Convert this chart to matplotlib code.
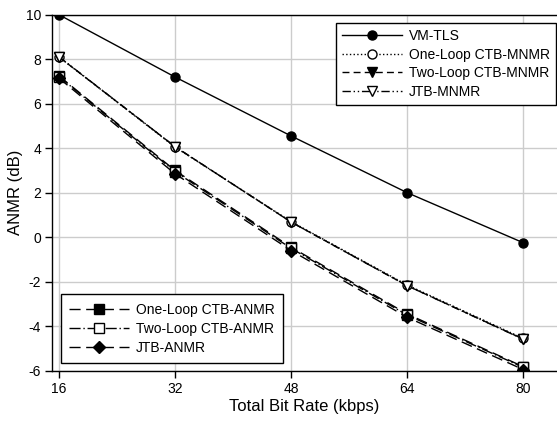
import matplotlib.pyplot as plt

plt.rcParams['font.family'] = ['Liberation Sans', 'DejaVu Sans']
plt.rcParams['axes.unicode_minus'] = False

rates = [16, 32, 48, 64, 80]

vm_tls = [10.0, 7.2, 4.55, 2.0, -0.25]
one_loop_mnmr = [8.1, 4.05, 0.7, -2.15, -4.55]
two_loop_mnmr = [8.1, 4.07, 0.68, -2.18, -4.58]
jtb_mnmr = [8.11, 4.07, 0.68, -2.18, -4.59]
one_loop_anmr = [7.25, 3.0, -0.45, -3.45, -5.82]
two_loop_anmr = [7.22, 2.95, -0.5, -3.5, -5.85]
jtb_anmr = [7.15, 2.85, -0.6, -3.6, -5.95]

fig = plt.figure(figsize=(5.57, 4.21), dpi=100)
ax = fig.add_axes([0.0934, 0.1195, 0.9066, 0.8456])

ms = 6.5
upper = []
upper += ax.plot(rates, vm_tls, 'k-', marker='o', ms=ms, lw=1, label='VM-TLS')
upper += ax.plot(rates, one_loop_mnmr, color='k', ls=':', marker='o', mfc='white',
                 ms=ms, lw=1, label='One-Loop CTB-MNMR')
upper += ax.plot(rates, two_loop_mnmr, color='k', ls=(0, (5, 3)), marker='v',
                 ms=ms, lw=1, label='Two-Loop CTB-MNMR')
upper += ax.plot(rates, jtb_mnmr, color='k', ls=(0, (6, 2, 1, 2, 1, 2)), marker='v',
                 mfc='white', ms=ms, lw=1, label='JTB-MNMR')

lower = []
lower += ax.plot(rates, one_loop_anmr, color='k', ls=(0, (8, 4)), marker='s',
                 ms=ms, lw=1, label='One-Loop CTB-ANMR')
lower += ax.plot(rates, two_loop_anmr, color='k', ls=(0, (8, 2, 1, 2)), marker='s',
                 mfc='white', ms=ms, lw=1, label='Two-Loop CTB-ANMR')
lower += ax.plot(rates, jtb_anmr, color='k', ls=(0, (8, 4)), marker='D',
                 ms=ms, lw=1, label='JTB-ANMR')

ax.set_xlim(15.05, 84.65)
ax.set_ylim(-6, 10)
ax.set_xticks(rates)
ax.set_yticks(range(-6, 11, 2))
ax.grid(True, color='#cccccc', lw=1)
ax.set_axisbelow(True)
ax.spines['right'].set_visible(False)
for s in ['left', 'top', 'bottom']:
    ax.spines[s].set_linewidth(1)
ax.tick_params(direction='out', length=5, width=1, labelsize=10, colors='k', pad=3)
ax.set_xlabel('Total Bit Rate (kbps)', fontsize=12, labelpad=2)
ax.set_ylabel('ANMR (dB)', fontsize=12, labelpad=2)

leg_kw = dict(fontsize=10, handlelength=4.3, fancybox=False, edgecolor='k',
              framealpha=1, borderaxespad=0, handletextpad=0.5)
leg1 = ax.legend(handles=upper, loc='upper right', bbox_to_anchor=(0.998, 0.9775),
                 borderpad=0.45, labelspacing=0.33, **leg_kw)
leg1.get_frame().set_linewidth(1)
ax.add_artist(leg1)
leg2 = ax.legend(handles=lower, loc='lower left', bbox_to_anchor=(0.018, 0.0216),
                 borderpad=0.6, labelspacing=0.36, **leg_kw)
leg2.get_frame().set_linewidth(1)

fig.savefig('out.png', dpi=100)
